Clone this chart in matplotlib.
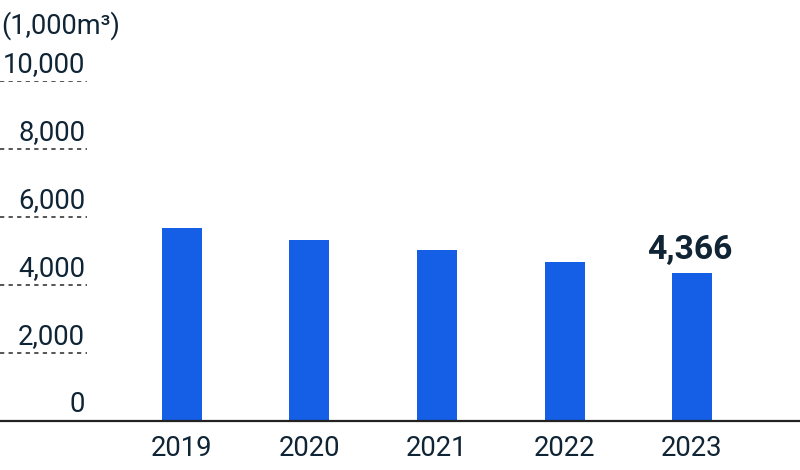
import matplotlib
matplotlib.use("Agg")
import matplotlib.pyplot as plt
import matplotlib.transforms as mtransforms

years = ["2019", "2020", "2021", "2022", "2023"]
values = [5668, 5315, 5030, 4668, 4366]
yticks = [0, 2000, 4000, 6000, 8000, 10000]
ytick_labels = ["0", "2,000", "4,000", "6,000", "8,000", "10,000"]
unit_label = "(1,000m³)"
highlight_label = "4,366"

plt.rcParams['font.family'] = ['Roboto', 'DejaVu Sans']
TEXT = "#0f2434"
BAR = "#155ee6"

W, H = 800, 470
fig = plt.figure(figsize=(W / 100, H / 100), dpi=100)
y0_px, y10_px = 421, 81
ax = fig.add_axes([0, (H - y0_px) / H, 1, (y0_px - y10_px) / H])
ax.set_ylim(0, 10000)
c0, step = 182, 127.5
ax.set_xlim(-c0 / step, (W - c0) / step)
for s in ax.spines.values():
    s.set_visible(False)
ax.set_xticks([])
ax.set_yticks([])
ax.patch.set_alpha(0)

x = list(range(len(years)))
ax.bar(x, values, width=40 / step, color=BAR, zorder=2)

# baseline
ax.axhline(0, color="#222222", lw=1.6, zorder=3, clip_on=False)

# dotted short gridlines and labels
px_per_unit = (y0_px - y10_px) / 10000
for v, lab in zip(yticks, ytick_labels):
    if v != 0:
        ax.axhline(v, xmin=0, xmax=87 / W, color="#555555", lw=1.4,
                   linestyle=(0, (2.2, 2.2)), zorder=1)
    ax.text(85 / W, v + 9 / px_per_unit, lab,
            transform=mtransforms.blended_transform_factory(ax.transAxes, ax.transData),
            ha="right", va="baseline", fontsize=19.8, color=TEXT)

# year labels
for xi, yl in zip(x, years):
    ax.text(xi, -35 / px_per_unit, yl, ha="center", va="baseline",
            fontsize=19.8, color=TEXT, clip_on=False)

# highlight label
ax.text(x[-1] - 2 / step, values[-1] + 14 / px_per_unit, highlight_label,
        ha="center", va="baseline", fontsize=24.3, fontweight="bold", color=TEXT)

fig.text(1 / W, (H - 34) / H, unit_label, ha="left", va="baseline",
         fontsize=19.5, color=TEXT)

fig.savefig("out.png", dpi=100)
